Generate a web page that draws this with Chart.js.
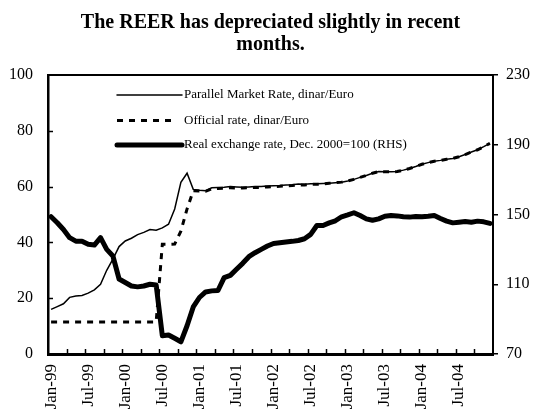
<!DOCTYPE html>
<html>
<head>
<meta charset="utf-8">
<script src="https://cdn.jsdelivr.net/npm/chart.js@4/dist/chart.umd.min.js"></script>
<style>
html,body{margin:0;padding:0;background:#fff;}
#wrap{width:534px;height:415px;position:relative;}
</style>
</head>
<body>
<div id="wrap"><canvas id="c" width="534" height="415"></canvas></div>
<script>
const categories = [
  'Jan-99','Feb-99','Mar-99','Apr-99','May-99','Jun-99','Jul-99','Aug-99','Sep-99','Oct-99','Nov-99','Dec-99',
  'Jan-00','Feb-00','Mar-00','Apr-00','May-00','Jun-00','Jul-00','Aug-00','Sep-00','Oct-00','Nov-00','Dec-00',
  'Jan-01','Feb-01','Mar-01','Apr-01','May-01','Jun-01','Jul-01','Aug-01','Sep-01','Oct-01','Nov-01','Dec-01',
  'Jan-02','Feb-02','Mar-02','Apr-02','May-02','Jun-02','Jul-02','Aug-02','Sep-02','Oct-02','Nov-02','Dec-02',
  'Jan-03','Feb-03','Mar-03','Apr-03','May-03','Jun-03','Jul-03','Aug-03','Sep-03','Oct-03','Nov-03','Dec-03',
  'Jan-04','Feb-04','Mar-04','Apr-04','May-04','Jun-04','Jul-04','Aug-04','Sep-04','Oct-04','Nov-04','Dec-04'
];

const parallelRate = [
  16.0, 17.0, 18.0, 20.3, 20.8, 21.0, 21.8, 23.0, 25.0, 30.0, 34.0, 38.5,
  40.5, 41.5, 42.8, 43.6, 44.6, 44.4, 45.2, 46.5, 52.0, 61.5, 64.8, 59.0,
  58.7, 58.5, 59.6, 59.7, 59.8, 60.0, 59.9, 59.8, 59.9, 60.0, 60.0, 60.2,
  60.3, 60.4, 60.6, 60.7, 60.9, 60.8, 61.0, 61.0, 61.1, 61.2, 61.4, 61.6,
  62.0, 62.6, 63.3, 64.0, 64.8, 65.4, 65.3, 65.3, 65.4, 65.9, 66.5, 67.2,
  68.0, 68.6, 69.1, 69.4, 69.8, 70.1, 70.7, 71.5, 72.4, 73.2, 74.3, 75.5
];

const officialRate = [
  11.5, 11.5, 11.5, 11.5, 11.5, 11.5, 11.5, 11.5, 11.5, 11.5, 11.5, 11.5,
  11.5, 11.5, 11.5, 11.5, 11.5, 11.5, 39.3, 39.3, 39.4, 44.0, 52.0, 58.5,
  58.4, 58.3, 59.2, 59.3, 59.4, 59.6, 59.5, 59.5, 59.6, 59.7, 59.7, 59.9,
  60.0, 60.1, 60.3, 60.4, 60.6, 60.6, 60.8, 60.8, 60.9, 61.2, 61.4, 61.6,
  62.0, 62.6, 63.3, 64.0, 64.8, 65.4, 65.3, 65.3, 65.4, 65.9, 66.5, 67.2,
  68.0, 68.6, 69.1, 69.4, 69.8, 70.1, 70.7, 71.5, 72.4, 73.2, 74.3, 75.5
];

const realExchangeRate = [
  148.7, 145.3, 141.4, 136.7, 134.7, 134.7, 132.9, 132.5, 136.7, 130.0, 126.2, 113.0,
  111.0, 109.0, 108.5, 109.0, 110.0, 109.6, 80.5, 80.9, 79.0, 77.0, 86.2, 97.0,
  102.4, 105.6, 106.2, 106.4, 113.8, 115.1, 118.6, 122.0, 125.8, 128.1, 130.0, 131.9,
  133.4, 133.8, 134.2, 134.6, 135.1, 136.1, 138.6, 143.7, 143.7, 145.2, 146.4, 148.7,
  149.8, 151.0, 149.4, 147.5, 146.7, 147.5, 149.0, 149.4, 149.2, 148.7, 148.5, 148.9,
  148.7, 149.0, 149.4, 147.7, 146.2, 145.2, 145.6, 146.0, 145.6, 146.2, 145.8, 144.9
];

const leftTicks = [0, 20, 40, 60, 80, 100];
const rightTicks = [70, 110, 150, 190, 230];
const seriesNames = [
  'Parallel Market Rate, dinar/Euro',
  'Official rate, dinar/Euro',
  'Real exchange rate, Dec. 2000=100 (RHS)'
];
const titleLines = ['The REER has depreciated slightly in recent', 'months.'];

const FONT = 'Liberation Serif';

const decorPlugin = {
  id: 'decor',
  afterDatasetsDraw(chart) {
    const {ctx, chartArea: a, scales} = chart;
    ctx.save();
    ctx.strokeStyle = '#000';
    ctx.setLineDash([]);
    // top frame line
    ctx.lineWidth = 2;
    ctx.beginPath();
    ctx.moveTo(a.left, a.top);
    ctx.lineTo(a.right, a.top);
    ctx.stroke();
    // inward ticks on left axis
    ctx.lineWidth = 1.5;
    const ys = scales.y;
    leftTicks.forEach(v => {
      if (v > ys.min && v < ys.max) {
        const py = Math.round(ys.getPixelForValue(v)) + 0.5;
        ctx.beginPath();
        ctx.moveTo(a.left, py);
        ctx.lineTo(a.left + 5, py);
        ctx.stroke();
      }
    });
    // inward ticks on x axis, every 3 months at category boundaries
    const xs = scales.x;
    const step = xs.getPixelForValue(1) - xs.getPixelForValue(0);
    for (let i = 3; i < categories.length; i += 3) {
      const px = Math.round(xs.getPixelForValue(i) - step / 2) + 0.5;
      ctx.beginPath();
      ctx.moveTo(px, a.bottom);
      ctx.lineTo(px, a.bottom - 5);
      ctx.stroke();
    }
    // legend inside plot
    const rows = [20, 45.5, 70];
    const x0 = a.left + 69, x1 = a.left + 134;
    chart.data.datasets.forEach((ds, i) => {
      const y = a.top + rows[i];
      ctx.save();
      ctx.lineWidth = ds.borderWidth;
      ctx.setLineDash(ds.borderDash || []);
      ctx.lineCap = ds.borderDash ? 'butt' : 'round';
      ctx.beginPath();
      ctx.moveTo(x0, y);
      ctx.lineTo(ds.borderDash ? x1 - 8 : x1, y);
      ctx.stroke();
      ctx.restore();
      ctx.fillStyle = '#000';
      ctx.font = '13px "' + FONT + '"';
      ctx.textBaseline = 'middle';
      ctx.textAlign = 'left';
      ctx.fillText(ds.label, x1 + 2, y);
    });
    ctx.restore();
  }
};

new Chart(document.getElementById('c'), {
  type: 'line',
  data: {
    labels: categories,
    datasets: [
      {
        label: seriesNames[0],
        data: parallelRate,
        yAxisID: 'y',
        borderColor: '#000',
        borderWidth: 1.5,
        pointRadius: 0,
        tension: 0,
        fill: false
      },
      {
        label: seriesNames[1],
        data: officialRate,
        yAxisID: 'y',
        borderColor: '#000',
        borderWidth: 3,
        borderDash: [6, 6],
        pointRadius: 0,
        tension: 0,
        fill: false
      },
      {
        label: seriesNames[2],
        data: realExchangeRate,
        yAxisID: 'y1',
        borderColor: '#000',
        borderWidth: 5,
        borderJoinStyle: 'round',
        borderCapStyle: 'round',
        pointRadius: 0,
        tension: 0,
        fill: false
      }
    ]
  },
  options: {
    responsive: false,
    animation: false,
    devicePixelRatio: 1,
    layout: { padding: 0 },
    plugins: {
      legend: { display: false },
      tooltip: { enabled: false },
      title: {
        display: true,
        fullSize: false,
        text: titleLines,
        color: '#000',
        font: { family: FONT, size: 20, weight: 'bold', lineHeight: 1.1 },
        padding: { top: 12, bottom: 19 }
      }
    },
    scales: {
      x: {
        type: 'category',
        offset: true,
        grid: { display: false, drawTicks: false },
        border: { display: true, color: '#000', width: 3 },
        ticks: {
          autoSkip: false,
          minRotation: 90,
          maxRotation: 90,
          padding: 10,
          color: '#000',
          font: { family: FONT, size: 17 },
          callback: function(v, i) { return i % 6 === 0 ? categories[i] : ''; }
        },
        afterFit(s) { s.height = 61; }
      },
      y: {
        position: 'left',
        min: 0,
        max: 100,
        grid: { display: false, drawTicks: false },
        border: { display: true, color: '#000', width: 2.5 },
        ticks: {
          stepSize: 20,
          padding: 15,
          color: '#000',
          font: { family: FONT, size: 16 }
        },
        afterFit(s) { s.width = 48; }
      },
      y1: {
        position: 'right',
        min: 70,
        max: 230,
        grid: { display: true, drawOnChartArea: false, drawTicks: true, tickLength: 5, color: '#000', lineWidth: 1.5 },
        border: { display: true, color: '#000', width: 2 },
        ticks: {
          stepSize: 40,
          padding: 8,
          color: '#000',
          font: { family: FONT, size: 16 }
        },
        afterFit(s) { s.width = 41; }
      }
    }
  },
  plugins: [decorPlugin]
});
</script>
</body>
</html>
